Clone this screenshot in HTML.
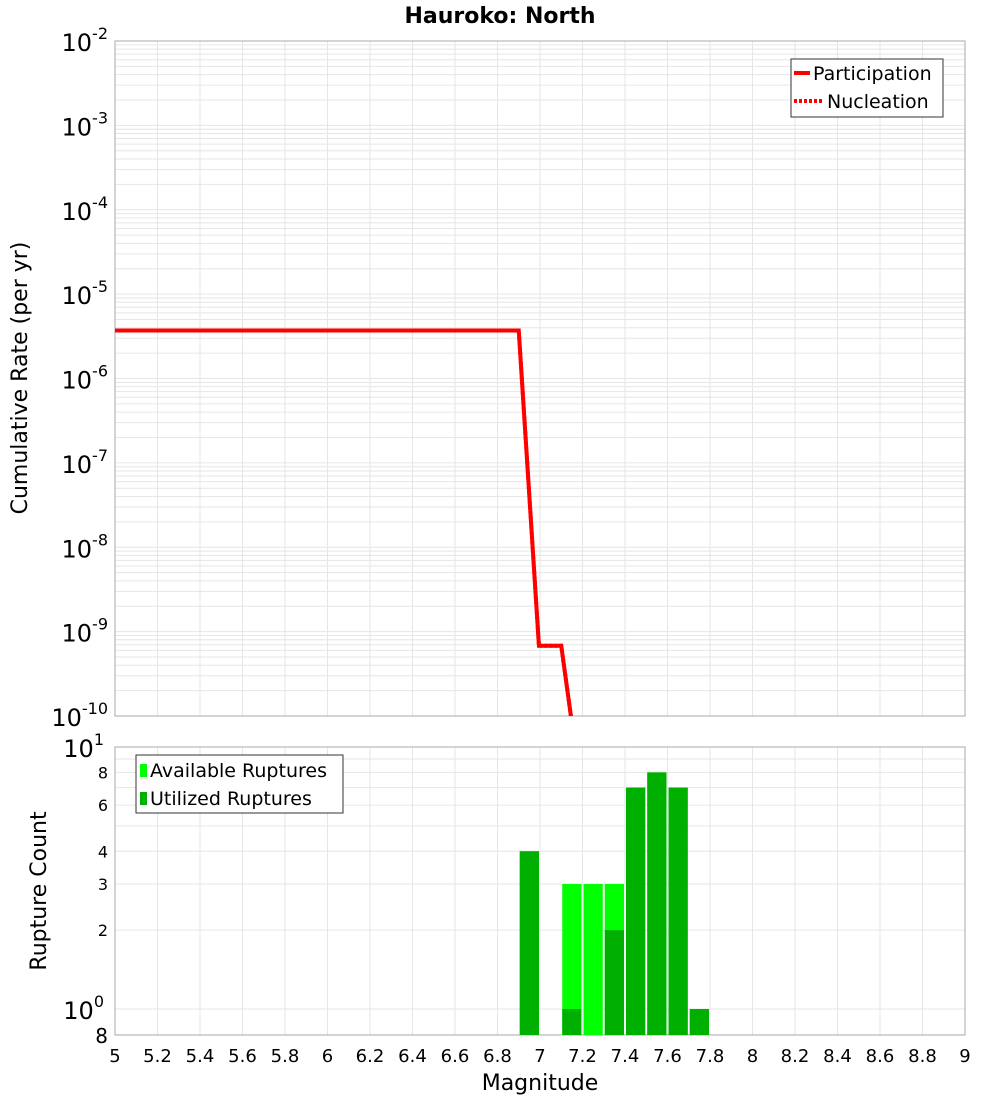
<!DOCTYPE html>
<html><head><meta charset="utf-8"><style>
body{margin:0;background:#fff;font-family:"Liberation Sans","DejaVu Sans",sans-serif;}
svg text{font-family:"DejaVu Sans","Liberation Sans",sans-serif;}
</style></head><body>
<svg id="chart" width="1000" height="1100" viewBox="0 0 1000 1100" xmlns="http://www.w3.org/2000/svg">
<text x="500" y="23" text-anchor="middle" font-size="22" font-weight="bold">Hauroko: North</text>
<g id="grid"></g>
<rect x="115" y="41" width="850" height="675" fill="none" stroke="#aaa"/>
<rect x="115" y="747" width="850" height="288" fill="none" stroke="#aaa"/>
<g id="bars"></g>
<g id="lines"></g>
<g id="axes"></g>
<text transform="translate(27,378) rotate(-90)" text-anchor="middle" font-size="22">Cumulative Rate (per yr)</text>
<text transform="translate(46,891) rotate(-90)" text-anchor="middle" font-size="22">Rupture Count</text>
<text x="540" y="1090" text-anchor="middle" font-size="22">Magnitude</text>
<g>
<rect x="791" y="59" width="152" height="58" fill="#fff" stroke="#333"/>
<line x1="794" y1="73" x2="810" y2="73" stroke="red" stroke-width="4"/>
<text x="813" y="80" font-size="19">Participation</text>
<line x1="794" y1="101" x2="822" y2="101" stroke="red" stroke-width="4" stroke-dasharray="3,2"/>
<text x="827" y="108" font-size="19">Nucleation</text>
</g>
<g>
<rect x="136" y="755" width="207" height="58" fill="#fff" stroke="#333"/>
<rect x="140" y="764" width="7" height="13" fill="#00ff00"/>
<text x="150" y="777" font-size="19">Available Ruptures</text>
<rect x="140" y="792" width="7" height="13" fill="#00b000"/>
<text x="150" y="805" font-size="19">Utilized Ruptures</text>
</g>
</svg>
<script>
const barMags=[6.9,7.1,7.2,7.3,7.4,7.5,7.6,7.7];
const availCounts=[4,3,3,3,7,8,7,1];
const utilCounts=[4,1,0,2,7,8,7,1];
const partMags=[5.0,6.9,6.995,7.1,7.2];
const partRates=[3.7e-6,3.7e-6,6.8e-10,6.8e-10,1e-11];
const nuclMags=[5.0,6.9,6.995,7.1,7.2];
const nuclRates=[3.7e-6,3.7e-6,6.8e-10,6.8e-10,1e-11];
const xTicks=[5,5.2,5.4,5.6,5.8,6,6.2,6.4,6.6,6.8,7,7.2,7.4,7.6,7.8,8,8.2,8.4,8.6,8.8,9];
const rateExps=[-2,-3,-4,-5,-6,-7,-8,-9,-10];
const countTicks=[8,6,4,3,2];

const NS="http://www.w3.org/2000/svg";
const X=m=>115+(m-5)*212.5;
const YR=r=>41+(-2-Math.log10(r))*675/8;
const YC=c=>1009-Math.log10(c)*262;
function mk(parent,tag,attrs){const e=document.createElementNS(NS,tag);for(const k in attrs)e.setAttribute(k,attrs[k]);document.getElementById(parent).appendChild(e);return e;}

// grid
for(const t of xTicks){
 let g=mk('grid','line',{x1:X(t),x2:X(t),y1:41,y2:716,stroke:'#e6e6e6'});
 
 
 let g2=mk('grid','line',{x1:X(t),x2:X(t),y1:747,y2:1035,stroke:'#e6e6e6'});
 
 
 let tl=mk('axes','text',{x:X(t),y:1062,'text-anchor':'middle','font-size':18});
 tl.textContent=String(t);
 
 
}
for(let e=-10;e<-2;e++){for(let k=1;k<10;k++){
 const y=YR(k*Math.pow(10,e));
 let g=mk('grid','line',{x1:115,x2:965,y1:y,y2:y,stroke:'#e6e6e6'});
 
 
}}
for(const c of [1,2,3,4,5,6,7,8,9,10]){
 const y=YC(c);
 let g=mk('grid','line',{x1:115,x2:965,y1:y,y2:y,stroke:'#e6e6e6'});
 
 
}
// rate ticks
for(const e of rateExps){
 const y=YR(Math.pow(10,e));
 const t=mk('axes','text',{x:108,y:y+10,'text-anchor':'end','font-size':24});
 t.innerHTML='10<tspan dy="-12" font-size="16">'+e+'</tspan>';
 
 
}
// count ticks
for(const c of countTicks){
 const t=mk('axes','text',{x:108,y:YC(c)+6,'text-anchor':'end','font-size':16});
 t.textContent=String(c);
 
 
}
[[10,'1'],[1,'0']].forEach(([c,e])=>{
 const t=mk('axes','text',{x:104,y:YC(c)+10,'text-anchor':'end','font-size':24});
 t.innerHTML='10<tspan dy="-12" font-size="16">'+e+'</tspan>';
 
 
});
let t8=mk('axes','text',{x:108,y:1043,'text-anchor':'end','font-size':20});
t8.textContent='8';



// bars
const base=1035;
barMags.forEach((m,i)=>{
 const x=X(m)+1,w=212.5*0.1-2;
 if(availCounts[i]>0){const y=YC(availCounts[i]);
  const b=mk('bars','rect',{x:x,y:y,width:w,height:base-y,fill:'#00ff00'});
  
  }
 if(utilCounts[i]>0){const y=YC(utilCounts[i]);
  const b=mk('bars','rect',{x:x,y:y,width:w,height:base-y,fill:'#00b000'});
  
  }
});

// lines
const clip=mk('lines','clipPath',{id:'topclip'});
const cr=document.createElementNS(NS,'rect');cr.setAttribute('x',115);cr.setAttribute('y',41);cr.setAttribute('width',850);cr.setAttribute('height',675);clip.appendChild(cr);
function pts(ms,rs){return ms.map((m,i)=>X(m)+','+YR(rs[i])).join(' ');}
const nl=mk('lines','polyline',{points:pts(nuclMags,nuclRates),fill:'none',stroke:'red','stroke-width':4,'stroke-dasharray':'3,2','clip-path':'url(#topclip)'});


const pl=mk('lines','polyline',{points:pts(partMags,partRates),fill:'none',stroke:'red','stroke-width':4,'clip-path':'url(#topclip)'});


</script>
</body></html>
